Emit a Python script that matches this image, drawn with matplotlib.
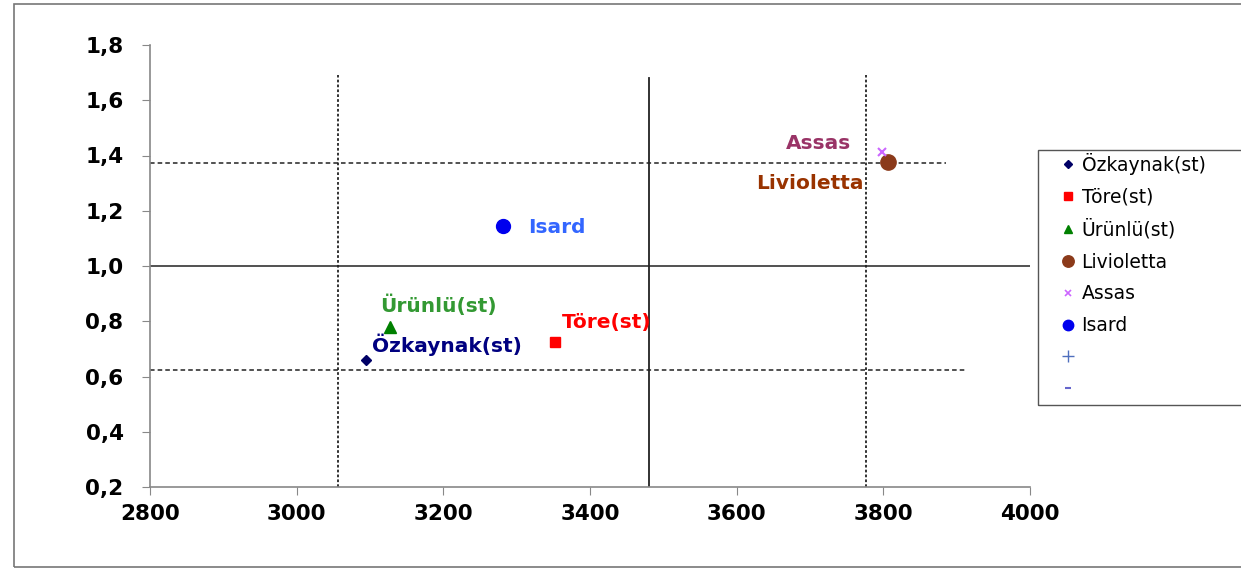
import matplotlib

matplotlib.use("Agg")
import matplotlib.pyplot as plt
from matplotlib.lines import Line2D
from matplotlib.patches import Rectangle
from matplotlib.ticker import FuncFormatter

plt.rcParams["font.family"] = ["DejaVu Sans"]

# firms: (x, y) positions
names = ["Özkaynak(st)", "Töre(st)", "Ürünlü(st)", "Livioletta", "Assas", "Isard"]
x_vals = [3094, 3352, 3127, 3806, 3798, 3281]
y_vals = [0.659, 0.724, 0.778, 1.376, 1.412, 1.144]
markers = ["D", "s", "^", "o", "x", "o"]
marker_sizes = [5, 7, 8, 11, 6, 10]
colors = ["#000066", "#ff0000", "#008000", "#8b3a1a", "#cc66ff", "#0000ee"]
label_colors = ["#000080", "#ff0000", "#339933", "#993300", "#993366", "#3366ff"]
# label anchor (data coords) for each firm
label_x = [3205, 3423, 3193, 3700, 3712, 3355]
label_y = [0.714, 0.797, 0.859, 1.300, 1.445, 1.141]

# reference lines
v_lines_x = [3056, 3480, 3776]
v_lines_top = [1.69, 1.68, 1.69]
v_styles = ["dotted", "solid", "dotted"]
h_lines_y = [1.372, 1.0, 0.622]
h_lines_end = [3885, 4000, 3911]
h_styles = ["dashed", "solid", "dashed"]

fig = plt.figure(figsize=(12.41, 5.70), dpi=100)
ax = fig.add_axes([150 / 1241, 1 - 487 / 570, 880 / 1241, 442 / 570])

for xv, top, st in zip(v_lines_x, v_lines_top, v_styles):
    ls = (0, (1.5, 1.2)) if st == "dotted" else "-"
    ax.plot([xv, xv], [0.2, top], color="#222222", linestyle=ls, linewidth=1.3, zorder=1)
for yv, end, st in zip(h_lines_y, h_lines_end, h_styles):
    ls = (0, (3, 2)) if st == "dashed" else "-"
    ax.plot([2800, end], [yv, yv], color="#222222", linestyle=ls, linewidth=1.1, zorder=1)

for i, name in enumerate(names):
    ax.plot(x_vals[i], y_vals[i], marker=markers[i], markersize=marker_sizes[i],
            markeredgewidth=1.5 if markers[i] == "x" else 1.0,
            color=colors[i], linestyle="none", zorder=3)
    ax.text(label_x[i], label_y[i], name, color=label_colors[i], fontsize=14.5,
            fontweight="bold", ha="center", va="center", zorder=4)

ax.set_xlim(2800, 4000)
ax.set_ylim(0.2, 1.8)
ax.set_xticks([2800, 3000, 3200, 3400, 3600, 3800, 4000])
ax.set_yticks([0.2, 0.4, 0.6, 0.8, 1.0, 1.2, 1.4, 1.6, 1.8])
ax.yaxis.set_major_formatter(FuncFormatter(lambda v, _: f"{v:.1f}".replace(".", ",")))
for side in ("top", "right"):
    ax.spines[side].set_visible(False)
for side in ("left", "bottom"):
    ax.spines[side].set_color("#888888")
    ax.spines[side].set_linewidth(1.2)
ax.tick_params(direction="out", length=6, color="#888888", labelsize=15.5)
ax.tick_params(axis="x", pad=6)
ax.tick_params(axis="y", pad=13)
for lab in ax.get_xticklabels() + ax.get_yticklabels():
    lab.set_fontweight("bold")

# legend
handles = [Line2D([], [], marker=m, markersize=s * 0.75, color=c, linestyle="none",
                  markeredgewidth=1.2 if m == "x" else 1.0)
           for m, s, c in zip(markers, marker_sizes, colors)]
handles += [Line2D([], [], marker="+", markersize=9, color="#4f6fbd", linestyle="none"),
            Line2D([], [], marker="_", markersize=5, color="#6666cc", linestyle="none",
                   markeredgewidth=1.5)]
leg = fig.legend(handles, names + [" ", " "], loc="upper left",
                 bbox_to_anchor=(1060 / 1241, 1 - 153 / 570), fontsize=13.5,
                 frameon=False, handlelength=0.8, handletextpad=0.35,
                 labelspacing=0.68, borderpad=0, borderaxespad=0)
fig.patches.append(Rectangle((1038 / 1241, 1 - 405 / 570), 0.2, 255 / 570,
                             transform=fig.transFigure, fill=False,
                             edgecolor="#555555", linewidth=1.0))

# outer chart border
fig.patches.append(Rectangle((14 / 1241, 3 / 570), 1.0, 1 - 7 / 570, transform=fig.transFigure,
                             fill=False, edgecolor="#777777", linewidth=1.2))

fig.savefig("out.png", dpi=100)
